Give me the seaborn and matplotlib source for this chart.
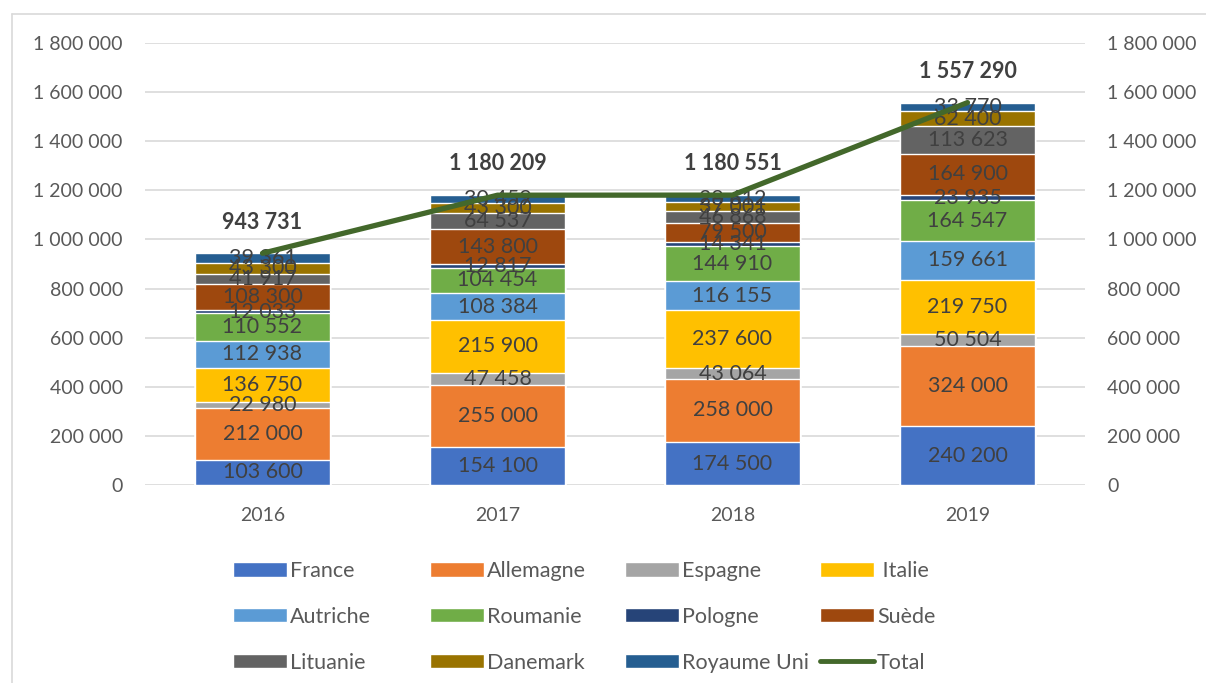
import numpy as np
import pandas as pd
import matplotlib
matplotlib.use("Agg")
import matplotlib.pyplot as plt
import seaborn as sns
from matplotlib.patches import Patch
from matplotlib.lines import Line2D
from matplotlib.ticker import FuncFormatter, MultipleLocator

# données
annees = ['2016', '2017', '2018', '2019']
pays = ['France', 'Allemagne', 'Espagne', ' Italie', 'Autriche', 'Roumanie',
        'Pologne', 'Suède', 'Lituanie', 'Danemark', 'Royaume Uni']
france = [103600, 154100, 174500, 240200]
allemagne = [212000, 255000, 258000, 324000]
espagne = [22980, 47458, 43064, 50504]
italie = [136750, 215900, 237600, 219750]
autriche = [112938, 108384, 116155, 159661]
roumanie = [110552, 104454, 144910, 164547]
pologne = [12033, 12817, 14341, 23935]
suede = [108300, 143800, 79500, 164900]
lituanie = [41917, 64537, 46868, 113623]
danemark = [43300, 43300, 37001, 62400]
royaume_uni = [39361, 30459, 28612, 33770]
totaux = [943731, 1180209, 1180551, 1557290]

series = [france, allemagne, espagne, italie, autriche, roumanie,
          pologne, suede, lituanie, danemark, royaume_uni]
couleurs = ['#4472C4', '#ED7D31', '#A5A5A5', '#FFC000', '#5B9BD5', '#70AD47',
            '#264478', '#9E480E', '#636363', '#997300', '#255E91']
vert = '#43682B'

sns.set_theme(style='white')
plt.rcParams['font.family'] = ['Lato', 'DejaVu Sans']

fig = plt.figure(figsize=(12.06, 6.83), dpi=100)
ax = fig.add_axes([145 / 1206, 1 - 485 / 683, 940 / 1206, 442 / 683])

df = pd.DataFrame({'annee': annees})
cumul = np.cumsum(np.array(series), axis=0)

# barres empilées : on dessine les cumuls du haut vers le bas
for i in reversed(range(len(pays))):
    df['cumul'] = cumul[i]
    sns.barplot(data=df, x='annee', y='cumul', color=couleurs[i], width=0.575,
                saturation=1, errorbar=None, ax=ax)

# étiquettes des segments
fmt = lambda v: f"{v:,.0f}".replace(",", " ")
for i in range(len(pays)):
    for j in range(len(annees)):
        bas = cumul[i - 1][j] if i > 0 else 0
        ax.text(j, bas + series[i][j] / 2, fmt(series[i][j]), ha='center', va='center',
                fontsize=15.5, color='#404040')

ax.set_xlim(-0.5, 3.5)
ax.set_ylim(0, 1800000)
ax.yaxis.set_major_locator(MultipleLocator(200000))
ax.yaxis.set_major_formatter(FuncFormatter(lambda v, p: fmt(v)))
ax.yaxis.grid(True, color='#D9D9D9', lw=1.2)
ax.set_axisbelow(True)
ax.set_xlabel('')
ax.set_ylabel('')
ax.tick_params(length=0, labelsize=14, labelcolor='#595959', pad=16)
for s in ax.spines.values():
    s.set_visible(False)

# axe secondaire avec la courbe Total
ax2 = ax.twinx()
sns.lineplot(x=np.arange(len(annees)), y=totaux, color=vert, lw=3.8, ax=ax2)
ax2.set_xlim(-0.5, 3.5)
ax2.set_ylim(0, 1800000)
ax2.yaxis.set_major_locator(MultipleLocator(200000))
ax2.yaxis.set_major_formatter(FuncFormatter(lambda v, p: fmt(v)))
ax2.tick_params(length=0, labelsize=14, labelcolor='#595959', pad=16)
ax2.grid(False)
for s in ax2.spines.values():
    s.set_visible(False)
for j, t in enumerate(totaux):
    ax2.annotate(fmt(t), (j, t), xytext=(0, 22.5), textcoords='offset points',
                 ha='center', va='center', fontsize=15.5, fontweight='bold', color='#404040')

# légende en 4 colonnes
handles = [Patch(facecolor=c) for c in couleurs] + [Line2D([], [], color=vert, lw=3.5)]
labels = pays + ['Total']
x_cols = [233, 430, 625, 820]
for c in range(4):
    idx = [c, c + 4, c + 8]
    fig.legend([handles[k] for k in idx], [labels[k] for k in idx],
               loc='upper left', bbox_to_anchor=(x_cols[c] / 1206, 1 - 561 / 683),
               frameon=False, fontsize=15.5, labelcolor='#595959',
               handlelength=2.5, handleheight=0.65, handletextpad=0.15,
               labelspacing=1.2, borderpad=0, borderaxespad=0)

# cadre du graphique
fig.add_artist(Line2D([12 / 1206, 1], [1 - 14 / 683, 1 - 14 / 683], color='#D9D9D9', lw=1.2))
fig.add_artist(Line2D([12 / 1206, 12 / 1206], [0, 1 - 14 / 683], color='#D9D9D9', lw=1.2))

fig.savefig('out.png', dpi=100)
